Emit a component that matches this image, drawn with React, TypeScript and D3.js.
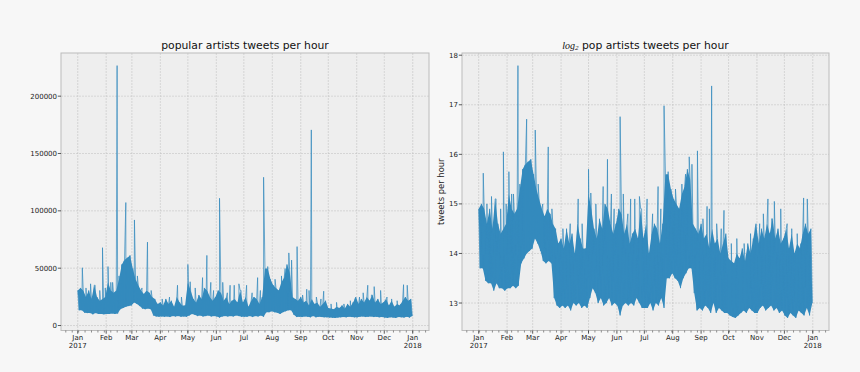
import React from "react";
import * as d3 from "d3";

// log2 of hourly tweet counts in 3-day buckets (Jan 1 2017 ..)
const hiLog2 = [
  14.9, 15.0, 14.9, 14.6, 14.9, 14.5, 15.1, 14.6, 14.4, 14.5,
  14.6, 15.2, 14.9, 14.8, 14.9, 15.3, 15.7, 15.8, 15.85, 15.9,
  15.6, 15.3, 15.1, 14.9, 14.75, 14.9, 14.8, 14.6, 14.5, 14.2,
  14.3, 14.1, 14.5, 14.2, 14.4, 14.0, 14.6, 14.3, 14.1, 14.1,
  15.2, 14.9, 14.5, 14.3, 14.7, 14.5, 15.0, 14.9, 14.6, 14.4,
  14.6, 14.9, 14.8, 14.4, 14.6, 14.2, 14.4, 14.5, 14.3, 14.9,
  14.3, 14.6, 14.0, 14.4, 14.6, 14.5, 14.2, 14.6, 15.6, 15.6,
  15.3, 15.1, 15.0, 14.9, 15.2, 15.35, 15.7, 15.5, 14.6, 14.5,
  14.4, 14.6, 14.3, 14.4, 14.1, 14.5, 14.2, 14.3, 14.0, 14.2,
  14.4, 13.9, 13.85, 13.8, 14.0, 13.9, 14.1, 13.85, 14.2, 14.0,
  14.3, 14.6, 14.2, 14.5, 14.3, 14.6, 14.4, 14.7, 14.3, 14.5,
  14.2, 14.3, 14.5, 14.1, 14.4, 14.0, 14.2, 14.1, 14.4, 14.6,
  14.4, 14.5,
];
const loLog2 = [
  13.7, 13.7, 13.45, 13.4, 13.4, 13.25, 13.4, 13.3, 13.3, 13.25,
  13.3, 13.3, 13.35, 13.3, 13.35, 13.8, 13.9, 14.0, 14.05, 14.1,
  14.3, 14.2, 14.05, 13.85, 13.8, 13.85, 13.8, 13.1, 12.95, 12.9,
  12.95, 12.9, 12.95, 12.85, 13.0, 12.95, 13.0, 12.9, 12.95, 12.9,
  13.1, 13.3, 13.2, 13.0, 13.1, 12.95, 13.0, 13.1, 12.95, 13.0,
  12.95, 12.75, 12.95, 13.0, 12.95, 13.0, 12.95, 13.1, 13.0, 12.9,
  12.9, 12.9, 13.0, 12.85, 13.0, 12.95, 13.1, 12.9, 13.5, 13.5,
  13.6, 13.5, 13.45, 13.3, 13.5, 13.6, 13.7, 13.7, 13.2, 12.85,
  12.9, 12.85, 12.95, 12.9, 12.8, 13.0, 12.8, 12.9, 12.85, 12.8,
  12.8, 12.75, 12.72, 12.7, 12.75, 12.8, 12.85, 12.8, 12.9, 12.85,
  12.8, 12.8, 12.9, 12.95, 12.85, 12.9, 12.95, 12.85, 12.9, 12.8,
  12.85, 12.75, 12.7, 12.8, 12.75, 12.7, 12.85, 12.8, 12.75, 12.9,
  12.75, 13.0,
];
// isolated hourly peaks: day of year (0 = Jan 1) and log2 value
const spikeDays = [
  5, 9, 14, 19, 24, 27, 30, 33, 36, 38, 42.9, 45, 48, 50, 52.4, 57, 61.8, 65, 70, 76, 80,
  92, 100, 108.7, 113, 120, 122.5, 128, 136, 140.7, 145, 148,
  154.5, 158, 163, 166, 170.5, 175.6, 178, 184, 190, 196, 199, 202.5, 207, 215, 222, 226, 230, 233,
  239, 245, 249.5, 252, 254.5, 260, 265, 268, 276, 282, 290, 297, 302,
  307, 311, 316, 320, 323, 330, 337, 342, 348, 352, 355, 359, 362,
];
const spikeLog2 = [
  15.62, 15.0, 15.15, 15.1, 14.9, 16.05, 15.0, 15.65, 15.2, 15.2, 17.79, 15.4, 15.5, 15.75, 16.71, 15.85, 16.49, 15.4, 15.0, 16.15, 14.9,
  14.5, 14.6, 15.1, 14.6, 15.7, 15.22, 15.0, 15.35, 15.9, 15.2, 14.9,
  16.76, 15.2, 14.8, 15.1, 15.1, 15.15, 14.9, 15.1, 14.8, 15.35, 14.9, 16.98, 15.65, 15.3, 15.4, 15.6, 15.95, 15.8,
  16.07, 14.7, 14.95, 14.9, 17.38, 14.6, 14.5, 14.87, 14.2, 14.3, 14.2, 14.4, 14.5,
  14.6, 14.8, 15.1, 14.7, 15.05, 14.9, 14.6, 14.5, 14.4, 14.2, 15.12, 15.1, 14.4,
];

const leftTicks = [0, 50000, 100000, 150000, 200000];
const rightTicks = [13, 14, 15, 16, 17, 18];

const BLUE = "#348ABD";
const start = Date.UTC(2017, 0, 1);
const DAY = 86400000;
const W = 860, H = 372, top = 53, bottom = 330.5;

type Pt = { t: number; v: number };
const seq: Pt[] = [];
hiLog2.forEach((h, i) => {
  seq.push({ t: 3 * i, v: h });
  seq.push({ t: 3 * i + 1.5, v: loLog2[i] });
});
spikeDays.forEach((d, i) => seq.push({ t: d, v: spikeLog2[i] }));
seq.sort((a, b) => a.t - b.t);

const toDate = (t: number) => new Date(start + t * DAY);
const tExt = d3.extent(seq, d => d.t) as [number, number];
const tPad = (tExt[1] - tExt[0]) * 0.05;
const timeDomain = [toDate(tExt[0] - tPad), toDate(tExt[1] + tPad)];
const months = d3.utcMonth.range(toDate(0), toDate(367));
const mondays = d3.utcMonday.range(timeDomain[0], timeDomain[1]);
const fmt = d3.utcFormat("%b");

function Panel({ x0, x1, linear, title, ticks, ylabel }: any) {
  const tr = (v: number) => (linear ? Math.pow(2, v) : v);
  const vals = seq.map(d => tr(d.v));
  const [mn, mx] = d3.extent(vals) as [number, number];
  const pad = (mx - mn) * 0.05;
  const x = d3.scaleUtc().domain(timeDomain).range([x0, x1]);
  const y = d3.scaleLinear().domain([mn - pad, mx + pad]).range([bottom, top]);
  const line = d3.line<Pt>().x(d => x(toDate(d.t))).y(d => y(tr(d.v)));
  const band = d3.area<number>()
    .x1((_, i) => x(toDate(3 * i))).y1(h => y(tr(h)))
    .x0((_, i) => x(toDate(3 * i + 1.5))).y0((_, i) => y(tr(loLog2[i])));
  const cx = (x0 + x1) / 2;
  return (
    <g>
      <rect x={x0} y={top} width={x1 - x0} height={bottom - top} fill="#eeeeee" />
      {months.map((m, i) => (
        <line key={"gx" + i} x1={x(m)} x2={x(m)} y1={top} y2={bottom} stroke="#bdbdbd" strokeWidth={0.5} strokeDasharray="2 1" />
      ))}
      {ticks.map((t: number) => (
        <line key={"gy" + t} x1={x0} x2={x1} y1={y(t)} y2={y(t)} stroke="#bdbdbd" strokeWidth={0.5} strokeDasharray="2 1" />
      ))}
      <path d={band(hiLog2) || ""} fill={BLUE} />
      <path d={line(seq) || ""} fill="none" stroke={BLUE} strokeWidth={0.9} strokeOpacity={0.8} strokeLinejoin="bevel" />
      <rect x={x0} y={top} width={x1 - x0} height={bottom - top} fill="none" stroke="#bcbcbc" strokeWidth={1} />
      {mondays.map((m, i) => (
        <line key={"mn" + i} x1={x(m)} x2={x(m)} y1={bottom} y2={bottom + 2} stroke="#444" strokeWidth={0.6} />
      ))}
      {months.map((m, i) => (
        <g key={"mx" + i} transform={`translate(${x(m)},0)`}>
          <line y1={bottom} y2={bottom + 3.2} stroke="#333" strokeWidth={0.8} />
          <text y={339.5} textAnchor="middle" fontSize={7} fill="#222">{fmt(m)}</text>
          {m.getUTCMonth() === 0 && (
            <text y={347.8} textAnchor="middle" fontSize={7} fill="#222">{m.getUTCFullYear()}</text>
          )}
        </g>
      ))}
      {ticks.map((t: number) => (
        <g key={"ty" + t}>
          <line x1={x0 - 3.2} x2={x0} y1={y(t)} y2={y(t)} stroke="#333" strokeWidth={0.8} />
          <text x={x0 - 4} y={y(t) + 2.5} textAnchor="end" fontSize={7} fill="#222">{String(t)}</text>
        </g>
      ))}
      {ylabel && (
        <text transform={`translate(444,${(top + bottom) / 2}) rotate(-90)`} textAnchor="middle" fontSize={8.4} fill="#222">{ylabel}</text>
      )}
      <text x={cx} y={48.5} textAnchor="middle" fontSize={10.8} fill="#111">{title}</text>
    </g>
  );
}

export default function App() {
  return (
    <div style={{ position: "absolute", left: 0, top: 0 }}>
      <svg width={W} height={H} style={{ display: "block", fontFamily: "DejaVu Sans, sans-serif" }}>
        <rect width={W} height={H} fill="#f7f7f7" />
        <Panel x0={61} x1={429} linear ticks={leftTicks} title="popular artists tweets per hour" />
        <Panel x0={462} x1={829} ticks={rightTicks} ylabel="tweets per hour"
          title={<>
            <tspan fontFamily="Liberation Serif, serif" fontStyle="italic" fontSize={10}>log</tspan>
            <tspan fontFamily="Liberation Serif, serif" fontStyle="italic" fontSize={7} dy={1.8}>2</tspan>
            <tspan dy={-1.8}> pop artists tweets per hour</tspan>
          </>} />
      </svg>
    </div>
  );
}
